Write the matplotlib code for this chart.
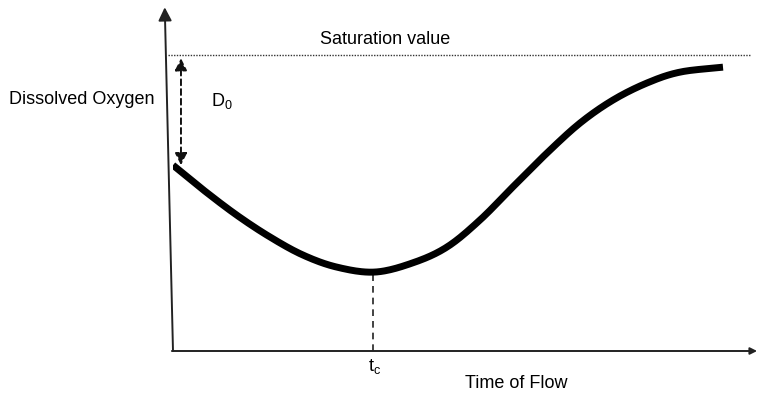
import numpy as np
import matplotlib.pyplot as plt

plt.rcParams['font.family'] = ['Liberation Sans', 'DejaVu Sans']
plt.rcParams['mathtext.default'] = 'regular'

# DO sag curve (time in days, DO in mg/L)
time = [0.0, 0.55, 1.16, 1.76, 2.36, 2.98, 3.67, 4.36, 4.98, 5.58,
        6.18, 6.80, 7.40, 8.00, 8.62, 9.22, 10.0]
do = [5.65, 4.90, 4.13, 3.47, 2.92, 2.55, 2.40, 2.68, 3.16, 3.98,
      4.99, 6.02, 6.93, 7.63, 8.15, 8.48, 8.63]
saturation = 9.0
t_critical = 3.64
do_critical = 2.40


def smooth(x, y, n=20):
    # Catmull-Rom pass through the read points, only for a smoother stroke
    p = np.column_stack([x, y])
    p = np.vstack([2 * p[0] - p[1], p, 2 * p[-1] - p[-2]])
    s = np.linspace(0, 1, n, endpoint=False)[:, None]
    out = []
    for i in range(1, len(p) - 2):
        p0, p1, p2, p3 = p[i - 1], p[i], p[i + 1], p[i + 2]
        out.append(0.5 * (2 * p1 + (-p0 + p2) * s
                          + (2 * p0 - 5 * p1 + 4 * p2 - p3) * s**2
                          + (-p0 + 3 * p1 - 3 * p2 + p3) * s**3))
    out.append(p[-2][None, :])
    out = np.vstack(out)
    return out[:, 0], out[:, 1]


fig = plt.figure(figsize=(7.57, 3.97), dpi=100)
# axes origin at the corner of the drawn axes
ax = fig.add_axes([173 / 757, 46 / 397, 584 / 757, 346 / 397])
ax.set_xlim(0, 584 / 55)
ax.set_ylim(0, 346 / 32.89)
ax.axis('off')

# axes drawn as arrows
ax.annotate('', xy=(-0.15, 10.45), xytext=(0, 0),
            arrowprops=dict(arrowstyle='-|>', color='#222222', lw=1.4,
                            mutation_scale=20, shrinkA=0, shrinkB=0),
            annotation_clip=False)
ax.annotate('', xy=(10.62, 0), xytext=(-0.02, 0),
            arrowprops=dict(arrowstyle='-|>', color='#222222', lw=1.4,
                            mutation_scale=10, shrinkA=0, shrinkB=0),
            annotation_clip=False)

# saturation line
ax.plot([-0.09, 10.5], [saturation, saturation], color='#333333', lw=1.0,
        linestyle=(0, (1, 1)), clip_on=False)

# initial deficit D0
ax.annotate('', xy=(0.145, saturation - 0.1), xytext=(0.145, do[0]),
            arrowprops=dict(arrowstyle='<|-|>', color='#111111', lw=1.4,
                            linestyle=(0, (3, 2)), mutation_scale=18,
                            shrinkA=0, shrinkB=0))

# critical time
ax.plot([t_critical, t_critical], [0, do_critical], color='#222222', lw=1.2,
        linestyle=(0, (4, 3)))

# DO curve
xs, ys = smooth(time, do)
ax.plot(xs, ys, color='black', lw=5, solid_capstyle='butt',
        solid_joinstyle='round')

fs = 13
fig.text(385 / 757, 1 - 40 / 397, 'Saturation value', ha='center', va='center', fontsize=fs)
fig.text(9 / 757, 1 - 100 / 397, 'Dissolved Oxygen', ha='left', va='center', fontsize=fs)
fig.text(211 / 757, 1 - 101 / 397, r'D$_0$', ha='left', va='center', fontsize=fs)
fig.text(375 / 757, 1 - 366 / 397, r't$_c$', ha='center', va='center', fontsize=fs)
fig.text(516 / 757, 1 - 383 / 397, 'Time of Flow', ha='center', va='center', fontsize=fs)

fig.savefig('out.png', dpi=100)
